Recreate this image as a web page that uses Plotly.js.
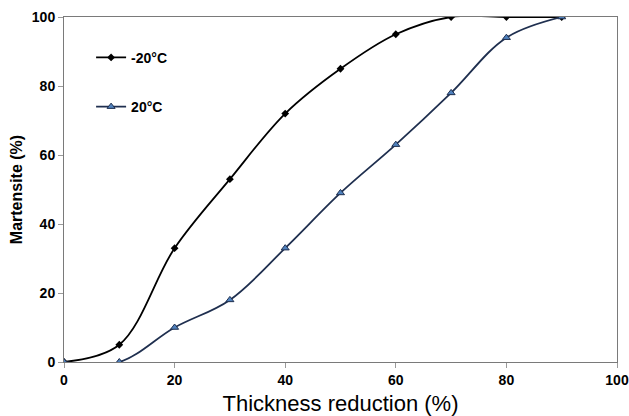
<!DOCTYPE html>
<html><head><meta charset="utf-8">
<script src="https://cdn.plot.ly/plotly-3.0.1.min.js"></script>
<style>html,body{margin:0;padding:0;background:#fff}#c{width:629px;height:416px}</style>
</head><body><div id="c"></div>
<script>
const reduction = [0, 10, 20, 30, 40, 50, 60, 70, 80, 90];
const martensiteMinus20 = [0, 5, 33, 53, 72, 85, 95, 100, 100, 100];
const martensitePlus20 = [0, 0, 10, 18, 33, 49, 63, 78, 94, 100];
const seriesNames = ['-20°C', '20°C'];
const xTicks = [0, 20, 40, 60, 80, 100];
const yTicks = [0, 20, 40, 60, 80, 100];

const traces = [
  {x: reduction, y: martensiteMinus20, name: seriesNames[0], mode: 'lines+markers', legendgroup: 'a',
   line: {color: '#000000', width: 1.8, shape: 'spline', smoothing: 1},
   marker: {symbol: 'diamond', size: 6, color: '#000000'}},
  {x: reduction, y: martensitePlus20, name: seriesNames[1], mode: 'lines+markers', legendgroup: 'b',
   line: {color: '#1f2f4f', width: 1.8, shape: 'spline', smoothing: 1},
   marker: {symbol: 'triangle-up', size: 7, color: '#4f81bd', line: {color: '#1f2f4f', width: 1}}}
];

const font = 'Liberation Sans, Arial';
const axisCommon = {
  showline: true, mirror: true, linecolor: '#7a7a7a', linewidth: 1,
  ticks: 'outside', ticklen: 5, tickcolor: '#9a9a9a', showgrid: false, zeroline: false,
  ticklabeloverflow: 'allow',
  tickfont: {family: font, size: 14, color: '#000', weight: 'bold'}
};

const layout = {
  width: 629, height: 416,
  margin: {l: 64, r: 12, t: 17, b: 54},
  paper_bgcolor: '#fff', plot_bgcolor: '#fff',
  showlegend: true,
  legend: {x: 0.049, y: 0.928, xanchor: 'left', yanchor: 'top', bgcolor: 'rgba(0,0,0,0)',
    tracegroupgap: 28, itemwidth: 30,
    font: {family: font, size: 14, color: '#000', weight: 'bold'}},
  xaxis: Object.assign({}, axisCommon, {range: [0, 100], tickvals: xTicks,
    title: {text: 'Thickness reduction (%)', standoff: 10, font: {family: font, size: 22, color: '#000'}}}),
  yaxis: Object.assign({}, axisCommon, {range: [0, 100], tickvals: yTicks,
    title: {text: 'Martensite (%)', standoff: 5, font: {family: font, size: 16, color: '#000', weight: 'bold'}}})
};

Plotly.newPlot('c', traces, layout, {displayModeBar: false, staticPlot: true});
</script>
</body></html>
